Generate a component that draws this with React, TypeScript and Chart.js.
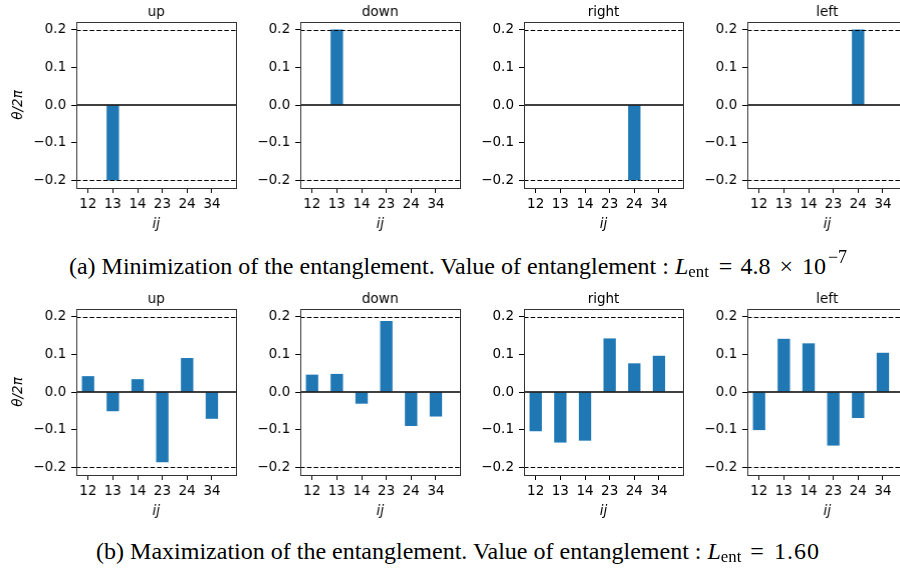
import React, { useEffect, useRef } from "react";
import { Chart, registerables } from "chart.js";

Chart.register(...registerables);

const categories = ["12", "13", "14", "23", "24", "34"];
const panelTitles = ["up", "down", "right", "left"];

const minUp = [0, -0.2, 0, 0, 0, 0];
const minDown = [0, 0.2, 0, 0, 0, 0];
const minRight = [0, 0, 0, 0, -0.2, 0];
const minLeft = [0, 0, 0, 0, 0.2, 0];

const maxUp = [0.042, -0.051, 0.034, -0.186, 0.09, -0.071];
const maxDown = [0.046, 0.048, -0.031, 0.188, -0.09, -0.065];
const maxRight = [-0.104, -0.134, -0.129, 0.142, 0.076, 0.096];
const maxLeft = [-0.101, 0.141, 0.129, -0.142, -0.069, 0.104];

const yTicks = [-0.2, -0.1, 0, 0.1, 0.2];
const bounds = [0.2, -0.2];

const rowMin = [minUp, minDown, minRight, minLeft];
const rowMax = [maxUp, maxDown, maxRight, maxLeft];

const BAR = "#1f77b4";
const FONT = "'DejaVu Sans', sans-serif";

const colLefts = [76, 300, 523.5, 747];
const rowTops = [21.5, 308.5];
const PW = 159.5;
const PH = 166;
const PADL = 70;
const PADT = 24;
const PADR = 10;
const PADB = 50;

function Panel({ values, title, left, top, showYLabel }: any) {
  const ref = useRef<HTMLCanvasElement | null>(null);
  useEffect(() => {
    const canvas = ref.current!;
    const overlay = {
      id: "overlay",
      afterDraw(chart: any) {
        const { ctx, chartArea: a, scales } = chart;
        const ys = scales.y;
        ctx.save();
        ctx.strokeStyle = "#000";
        ctx.lineWidth = 1.2;
        ctx.setLineDash([4.5, 2.2]);
        bounds.forEach((b) => {
          const py = Math.round(ys.getPixelForValue(b)) + 0.5;
          ctx.beginPath();
          ctx.moveTo(a.left, py);
          ctx.lineTo(a.right, py);
          ctx.stroke();
        });
        ctx.setLineDash([]);
        ctx.lineWidth = 1.3;
        const pz = ys.getPixelForValue(0);
        ctx.beginPath();
        ctx.moveTo(a.left, pz);
        ctx.lineTo(a.right, pz);
        ctx.stroke();
        ctx.strokeStyle = "#333";
        ctx.lineWidth = 1;
        ctx.strokeRect(Math.round(a.left) + 0.5, Math.round(a.top) + 0.5, Math.round(a.right - a.left), Math.round(a.bottom - a.top));
        ctx.fillStyle = "#000";
        ctx.font = `13.5px ${FONT}`;
        ctx.textAlign = "center";
        ctx.textBaseline = "alphabetic";
        ctx.fillText(title, (a.left + a.right) / 2, a.top - 6);
        ctx.font = `italic 13.5px ${FONT}`;
        ctx.fillText("ij", (a.left + a.right) / 2, a.bottom + 40);
        if (showYLabel) {
          ctx.translate(a.left - 58, (a.top + a.bottom) / 2);
          ctx.rotate(-Math.PI / 2);
          ctx.textBaseline = "middle";
          ctx.fillText("θ/2π", 0, 0);
        }
        ctx.restore();
      },
    };
    const chart = new Chart(canvas, {
      type: "bar",
      data: {
        datasets: [
          {
            data: values.map((v: number, i: number) => ({ x: i, y: v })),
            backgroundColor: BAR,
            borderWidth: 0,
            barPercentage: 0.5,
            categoryPercentage: 1,
          },
        ],
      },
      options: {
        animation: false,
        responsive: false,
        maintainAspectRatio: false,
        layout: { padding: { top: PADT, right: PADR, left: 0, bottom: 0 } },
        plugins: { legend: { display: false }, tooltip: { enabled: false }, title: { display: false } },
        scales: {
          x: {
            type: "linear",
            offset: false,
            min: -0.475,
            max: 5.975,
            afterBuildTicks: (s: any) => {
              s.ticks = categories.map((_, i) => ({ value: i }));
            },
            afterFit: (s: any) => {
              s.height = PADB;
            },
            grid: { drawOnChartArea: false, drawTicks: true, tickLength: 5, color: "#000", lineWidth: 1, offset: false },
            border: { display: false },
            ticks: {
              color: "#000",
              font: { family: FONT, size: 13.5 },
              padding: 3,
              maxRotation: 0,
              autoSkip: false,
              callback: (v: any) => categories[Math.round(Number(v))] ?? "",
            },
          },
          y: {
            type: "linear",
            min: -0.22,
            max: 0.22,
            afterBuildTicks: (s: any) => {
              s.ticks = yTicks.map((v) => ({ value: v }));
            },
            afterFit: (s: any) => {
              s.width = PADL;
            },
            grid: { drawOnChartArea: false, drawTicks: true, tickLength: 5, color: "#000", lineWidth: 1 },
            border: { display: false },
            ticks: {
              color: "#000",
              font: { family: FONT, size: 13.5 },
              padding: 5,
              callback: (v: any) => {
                const n = Number(v);
                const s = Math.abs(n).toFixed(1);
                return n < -1e-9 ? "\u2212" + s : s;
              },
            },
          },
        },
      },
      plugins: [overlay],
    } as any);
    return () => chart.destroy();
  }, [values, title, showYLabel]);
  const w = PADL + PW + PADR;
  const h = PADT + PH + PADB;
  return (
    <canvas
      ref={ref}
      width={w}
      height={h}
      style={{ position: "absolute", left: left - PADL, top: top - PADT, width: w, height: h }}
    />
  );
}

const captionStyle: React.CSSProperties = {
  position: "absolute",
  left: 0,
  width: 916,
  textAlign: "center",
  fontFamily: "'Liberation Serif', 'Times New Roman', serif",
  fontSize: 24,
  lineHeight: "26px",
  color: "#000",
  whiteSpace: "nowrap",
};

const sub: React.CSSProperties = { fontSize: "0.7em", position: "relative", top: "0.2em" };
const sup: React.CSSProperties = { fontSize: "0.75em", position: "relative", top: "-0.6em", marginLeft: 2 };

export default function App() {
  return (
    <div style={{ position: "fixed", left: 0, top: 0, width: 900, height: 570, background: "#fff", overflow: "hidden" }}>
      {rowMin.map((vals, i) => (
        <Panel key={"a" + i} values={vals} title={panelTitles[i]} left={colLefts[i]} top={rowTops[0]} showYLabel={i === 0} />
      ))}
      {rowMax.map((vals, i) => (
        <Panel key={"b" + i} values={vals} title={panelTitles[i]} left={colLefts[i]} top={rowTops[1]} showYLabel={i === 0} />
      ))}
      <div style={{ ...captionStyle, top: 253 }}>
        {"(a) Minimization of the entanglement. Value of entanglement : "}
        <i>L</i>
        <span style={sub}>ent</span>
        <span style={{ marginLeft: 10, marginRight: 8 }}>=</span>
        <span>4.8</span>
        <span style={{ marginLeft: 9, marginRight: 9 }}>×</span>
        <span>10</span>
        <span style={sup}>−7</span>
      </div>
      <div style={{ ...captionStyle, top: 538 }}>
        {"(b) Maximization of the entanglement. Value of entanglement : "}
        <i>L</i>
        <span style={sub}>ent</span>
        <span style={{ marginLeft: 9, marginRight: 10 }}>=</span>
        <span style={{ letterSpacing: 1 }}>1.60</span>
      </div>
    </div>
  );
}
